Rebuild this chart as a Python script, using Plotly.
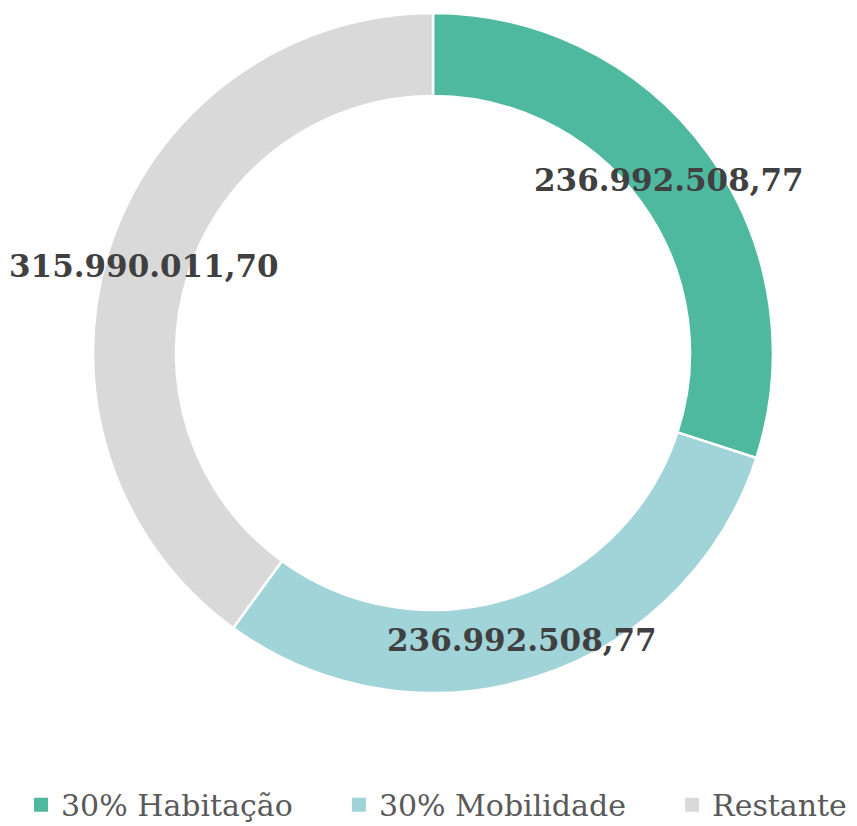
import plotly.graph_objects as go

categories = ["30% Habitação", "30% Mobilidade", "Restante"]
values = [236992508.77, 236992508.77, 315990011.70]
colors = ["#4FB99F", "#A0D4D8", "#D9D9D9"]

label_pos = [(0.7713, 0.7918), (0.5998, 0.2349), (0.1587, 0.6877)]

PAD = "\u00a0" * 4 + "\u200a"


def fmt_pt(v):
    s = f"{v:,.2f}"
    return s.replace(",", "X").replace(".", ",").replace("X", ".")


fig = go.Figure()
fig.add_trace(
    go.Pie(
        labels=categories,
        values=values,
        hole=0.756,
        sort=False,
        direction="clockwise",
        rotation=0,
        textinfo="none",
        hoverinfo="label+value",
        showlegend=False,
        marker=dict(colors=colors, line=dict(color="white", width=2.5)),
        domain=dict(x=[0.0992, 0.8926], y=[0.1707, 0.994]),
    )
)

# legend entries with square swatches
n = len(categories)
for i, (name, c) in enumerate(zip(categories, colors)):
    fig.add_trace(
        go.Scatter(
            x=[None], y=[None], mode="markers",
            name=name + (PAD if i < n - 1 else ""),
            marker=dict(symbol="square", size=14, color=c),
            showlegend=True, hoverinfo="skip",
        )
    )

for v, (x, y) in zip(values, label_pos):
    fig.add_annotation(
        x=x, y=y, xref="paper", yref="paper",
        text=f"<b>{fmt_pt(v)}</b>", showarrow=False,
        font=dict(family="DejaVu Serif", size=31, color="#404040"),
        xanchor="center", yanchor="middle",
    )

fig.update_layout(
    width=857, height=826,
    margin=dict(l=0, r=0, t=0, b=0),
    paper_bgcolor="white",
    plot_bgcolor="white",
    showlegend=True,
    xaxis=dict(visible=False),
    yaxis=dict(visible=False),
    legend=dict(
        orientation="h",
        x=0.5, xanchor="center",
        y=0.004, yanchor="bottom",
        font=dict(family="DejaVu Serif", size=30, color="#595959"),
        itemclick=False,
    ),
)

fig.write_html("out.html")
